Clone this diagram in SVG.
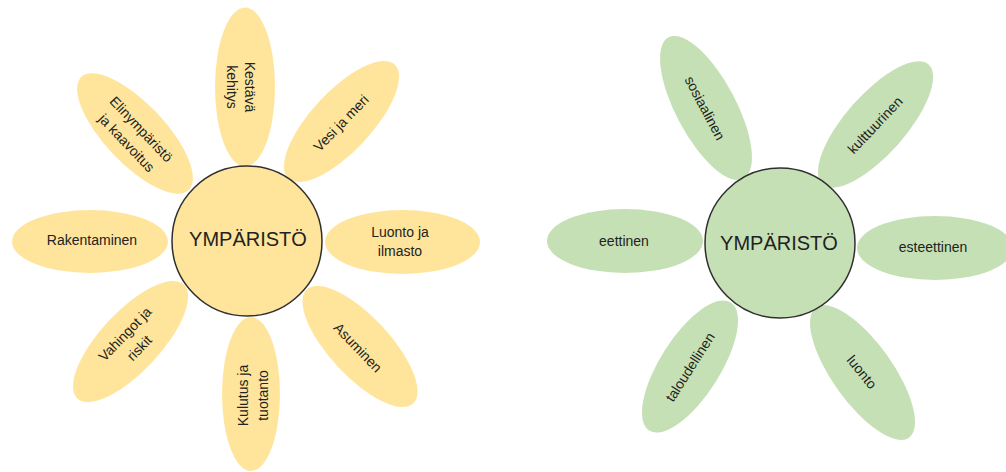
<svg xmlns="http://www.w3.org/2000/svg" width="1006" height="472" viewBox="0 0 1006 472">
<style>
.py{fill:#FFE59C}
.pg{fill:#C6E0B5}
.hub{stroke:#2f2f2f;stroke-width:1.5}
.t{font-family:"Liberation Sans",Arial,sans-serif;font-size:14px;fill:#222;text-anchor:middle}
.c{font-family:"Liberation Sans",Arial,sans-serif;font-size:20px;fill:#222;text-anchor:middle}
</style>
<rect width="1006" height="472" fill="#fff"/>
<g id="connectors"/>
<!-- Left flower -->
<g id="kestava">
<ellipse class="py" cx="245" cy="87" rx="30" ry="79.5"/>
<text class="t" transform="translate(245,87) rotate(90)"><tspan x="0" y="0">Kestävä</tspan><tspan x="0" y="18">kehitys</tspan></text>
</g>
<g id="elinymparisto">
<ellipse class="py" transform="translate(135,133.5) rotate(46.5)" cx="0" cy="0" rx="78" ry="30"/>
<text class="t" transform="translate(134,136) rotate(46.5)"><tspan x="0" y="-5">Elinympäristö</tspan><tspan x="0" y="15">ja kaavoitus</tspan></text>
</g>
<g id="vesi">
<ellipse class="py" transform="translate(341.5,121.5) rotate(-47)" cx="0" cy="0" rx="78" ry="30"/>
<text class="t" transform="translate(341,123) rotate(-46)" x="0" y="5">Vesi ja meri</text>
</g>
<g id="rakentaminen">
<ellipse class="py" cx="90" cy="241.5" rx="78" ry="31.5"/>
<text class="t" x="92" y="245">Rakentaminen</text>
</g>
<g id="luonto-ilmasto">
<ellipse class="py" cx="402.5" cy="242" rx="77.5" ry="32"/>
<text class="t"><tspan x="400" y="237">Luonto ja</tspan><tspan x="400" y="256">ilmasto</tspan></text>
</g>
<g id="vahingot">
<ellipse class="py" transform="translate(130.5,341.5) rotate(-47)" cx="0" cy="0" rx="78" ry="30"/>
<text class="t" transform="translate(132,341) rotate(-46)"><tspan x="0" y="-5">Vahingot ja</tspan><tspan x="0" y="15">riskit</tspan></text>
</g>
<g id="kulutus">
<ellipse class="py" cx="251" cy="394" rx="29" ry="77"/>
<text class="t" transform="translate(253,395.5) rotate(-90)"><tspan x="0" y="-5">Kulutus ja</tspan><tspan x="0" y="15">tuotanto</tspan></text>
</g>
<g id="asuminen">
<ellipse class="py" transform="translate(360,346.5) rotate(47)" cx="0" cy="0" rx="78" ry="30"/>
<text class="t" transform="translate(358,347.5) rotate(46)" x="0" y="5">Asuminen</text>
</g>
<g id="ymparisto-left">
<circle class="py hub" cx="247" cy="241" r="75"/>
<text class="c" x="248" y="246">YMPÄRISTÖ</text>
</g>
<!-- Right flower -->
<g id="sosiaalinen">
<ellipse class="pg" transform="translate(706,108) rotate(62)" cx="0" cy="0" rx="80" ry="30"/>
<text class="t" transform="translate(705,108) rotate(62)" x="0" y="5">sosiaalinen</text>
</g>
<g id="kulttuurinen">
<ellipse class="pg" transform="translate(875.5,124.5) rotate(-48.5)" cx="0" cy="0" rx="80" ry="30"/>
<text class="t" transform="translate(875,125) rotate(-46.5)" x="0" y="5">kulttuurinen</text>
</g>
<g id="eettinen">
<ellipse class="pg" cx="625" cy="241" rx="78" ry="32"/>
<text class="t" x="624" y="246">eettinen</text>
</g>
<g id="esteettinen">
<ellipse class="pg" cx="935" cy="248" rx="78" ry="32"/>
<text class="t" x="933" y="252">esteettinen</text>
</g>
<g id="taloudellinen">
<ellipse class="pg" transform="translate(690,366.5) rotate(-57.5)" cx="0" cy="0" rx="76" ry="30"/>
<text class="t" transform="translate(690,367) rotate(-57.5)" x="0" y="5">taloudellinen</text>
</g>
<g id="luonto">
<ellipse class="pg" transform="translate(862.5,372.5) rotate(54.5)" cx="0" cy="0" rx="80" ry="30"/>
<text class="t" transform="translate(862,372) rotate(51)" x="0" y="5">luonto</text>
</g>
<g id="ymparisto-right">
<circle class="pg hub" cx="780" cy="243" r="75"/>
<text class="c" x="779" y="250">YMPÄRISTÖ</text>
</g>
</svg>
